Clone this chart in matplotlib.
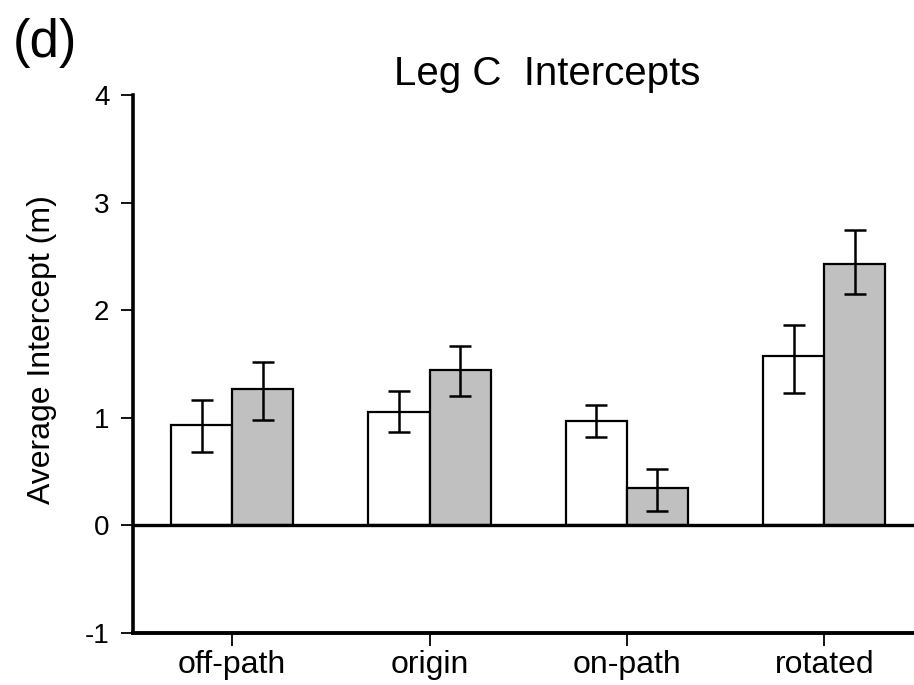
import matplotlib
matplotlib.use("Agg")
import matplotlib.pyplot as plt
import numpy as np

plt.rcParams['font.family'] = ['Liberation Sans', 'DejaVu Sans']
plt.rcParams['axes.unicode_minus'] = False

# data
categories = ['off-path', 'origin', 'on-path', 'rotated']
white_vals = [0.93, 1.05, 0.97, 1.57]
white_lo = [0.68, 0.87, 0.82, 1.23]
white_hi = [1.17, 1.25, 1.12, 1.86]
gray_vals = [1.27, 1.44, 0.35, 2.43]
gray_lo = [0.98, 1.20, 0.13, 2.15]
gray_hi = [1.52, 1.67, 0.52, 2.75]

x = np.arange(len(categories))
w = 0.31

fig = plt.figure(figsize=(9.14, 6.85), dpi=100)
ax = fig.add_axes([0.1455, 0.0759, 0.8545, 0.7854])

def draw(xpos, vals, lo, hi, color):
    vals = np.array(vals)
    yerr = [vals - np.array(lo), np.array(hi) - vals]
    ax.bar(xpos, vals, width=w, color=color, edgecolor='black', linewidth=1.6, zorder=2)
    ax.errorbar(xpos, vals, yerr=yerr, fmt='none', ecolor='black',
                elinewidth=1.8, capsize=8, capthick=1.8, zorder=3)

draw(x - w / 2, white_vals, white_lo, white_hi, 'white')
draw(x + w / 2, gray_vals, gray_lo, gray_hi, '#c0c0c0')

ax.axhline(0, color='black', linewidth=2.4, zorder=4)

ax.set_xlim(-0.503, 3.455)
ax.set_ylim(-1, 4)
ax.set_yticks([-1, 0, 1, 2, 3, 4])
ax.set_xticks(x)
ax.set_xticklabels(categories)
ax.tick_params(axis='y', direction='out', length=9, width=1.3, labelsize=20, pad=8)
ax.tick_params(axis='x', direction='out', length=9, width=1.3, labelsize=23, pad=3)

for s in ['top', 'right']:
    ax.spines[s].set_visible(False)
ax.spines['left'].set_linewidth(2.6)
ax.spines['bottom'].set_linewidth(2.8)

fig.text(547 / 914, 1 - 85 / 685, 'Leg C  Intercepts', fontsize=29,
         ha='center', va='baseline')
fig.text(42 / 914, 1 - 350 / 685, 'Average Intercept (m)', rotation=90, fontsize=23,
         ha='center', va='center')
fig.text(13 / 914, 1 - 57 / 685, '(d)', fontsize=38, ha='left', va='baseline')

fig.savefig('out.png', dpi=100)
